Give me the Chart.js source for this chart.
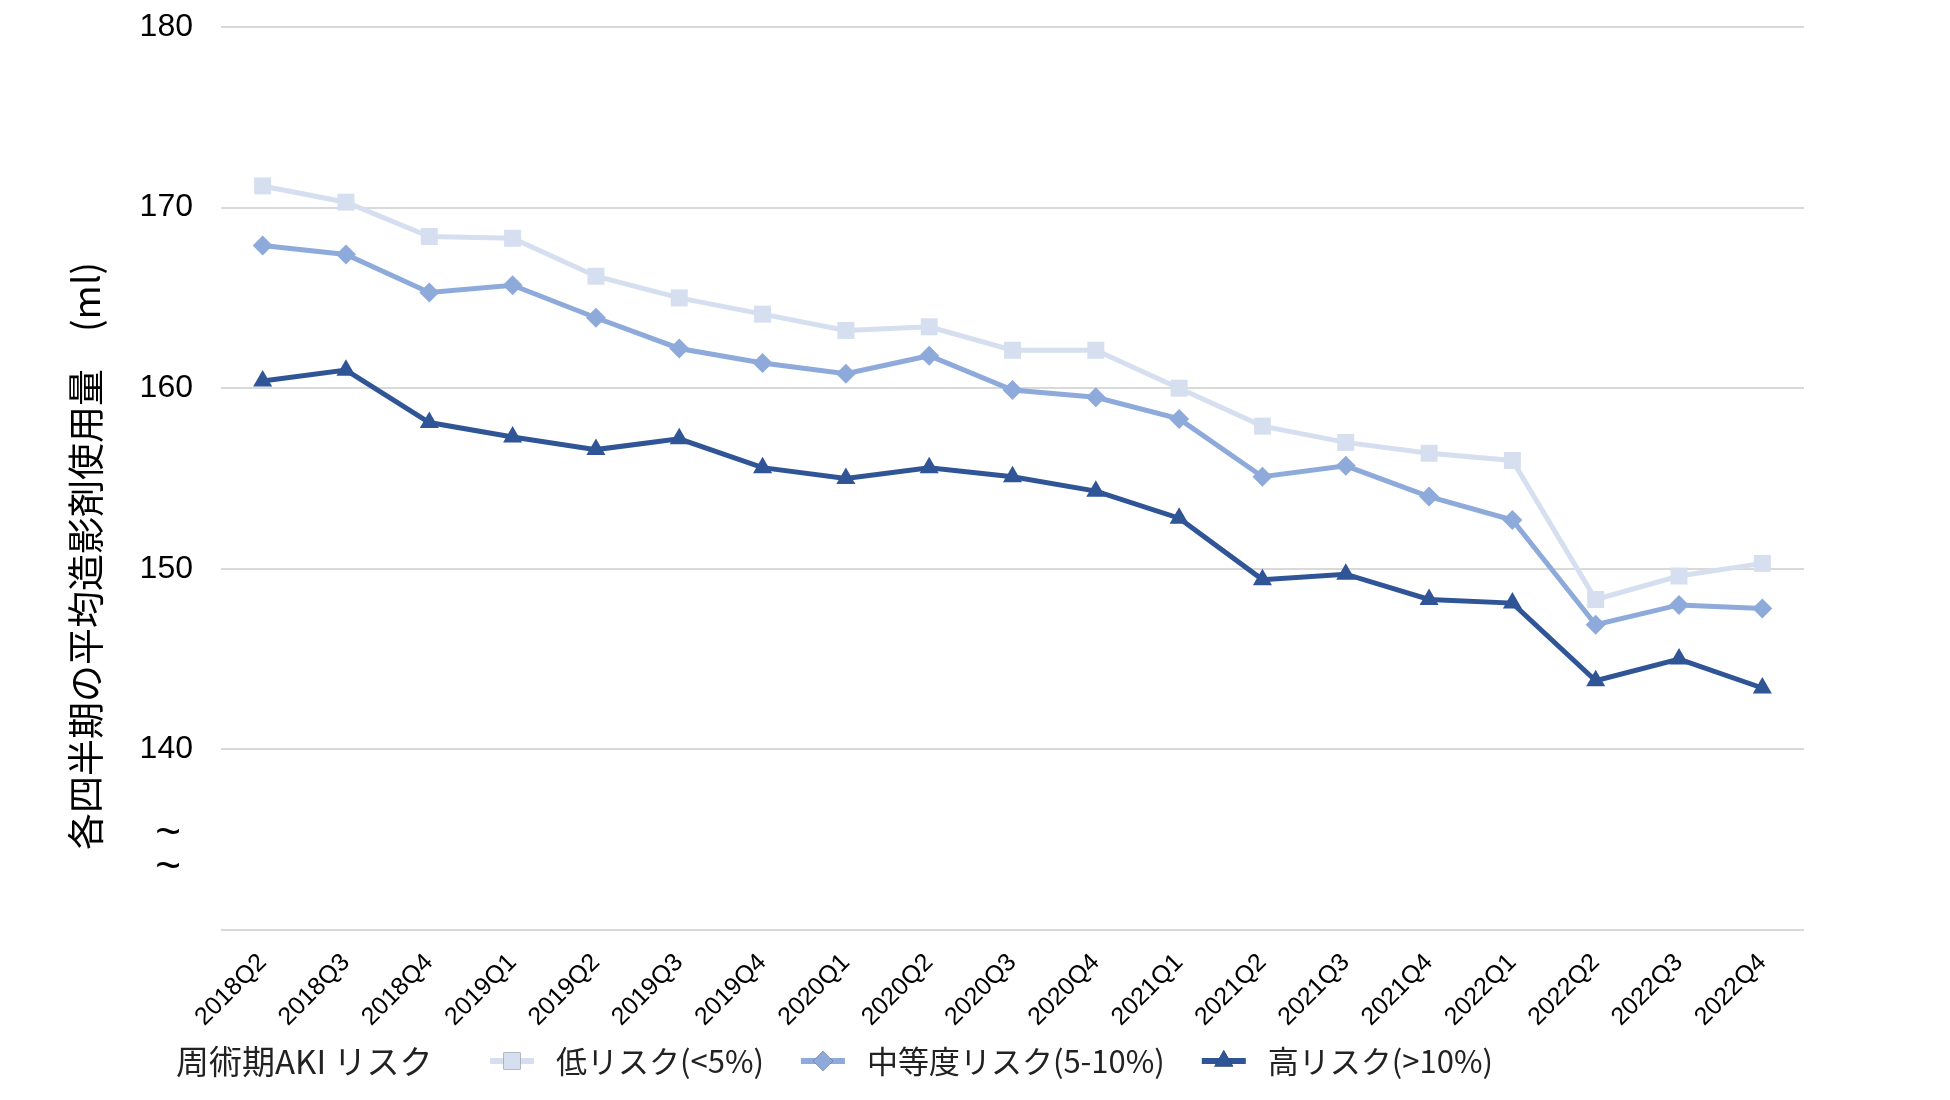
<!DOCTYPE html>
<html>
<head>
<meta charset="utf-8">
<script src="https://cdn.jsdelivr.net/npm/chart.js@4/dist/chart.umd.min.js"></script>
<style>
  html, body { margin: 0; padding: 0; background: #fff; }
  #wrap { width: 1950px; height: 1100px; }
</style>
</head>
<body>
<div id="wrap"><canvas id="riskChart" width="1950" height="1100"></canvas></div>
<script>
const quarters = ['2018Q2', '2018Q3', '2018Q4', '2019Q1', '2019Q2', '2019Q3', '2019Q4',
  '2020Q1', '2020Q2', '2020Q3', '2020Q4', '2021Q1', '2021Q2', '2021Q3', '2021Q4',
  '2022Q1', '2022Q2', '2022Q3', '2022Q4'];

const lowRisk = [171.2, 170.3, 168.4, 168.3, 166.2, 165.0, 164.1, 163.2, 163.4, 162.1,
  162.1, 160.0, 157.9, 157.0, 156.4, 156.0, 148.3, 149.6, 150.3];
const midRisk = [167.9, 167.4, 165.3, 165.7, 163.9, 162.2, 161.4, 160.8, 161.8, 159.9,
  159.5, 158.3, 155.1, 155.7, 154.0, 152.7, 146.9, 148.0, 147.8];
const highRisk = [160.4, 161.0, 158.1, 157.3, 156.6, 157.2, 155.6, 155.0, 155.6, 155.1,
  154.3, 152.8, 149.4, 149.7, 148.3, 148.1, 143.8, 145.0, 143.4];

const seriesNames = ['低リスク(<5%)', '中等度リスク(5-10%)', '高リスク(>10%)'];
const legendTitle = '周術期AKI リスク';
const yTitle = '各四半期の平均造影剤使用量　(ml)';

const LATIN = '"Liberation Sans", Arial, sans-serif';
const CJK = '"Noto Sans CJK JP", "Noto Sans", sans-serif';

// draws y title, axis break marks and the inline legend
const extras = {
  id: 'extras',
  afterDraw(chart) {
    const ctx = chart.ctx;
    ctx.save();

    // y axis title
    ctx.translate(86, 556);
    ctx.rotate(-Math.PI / 2);
    ctx.fillStyle = '#000';
    ctx.font = '37px ' + CJK;
    ctx.textAlign = 'center';
    ctx.textBaseline = 'middle';
    ctx.fillText(yTitle, 0, 0);
    ctx.restore();

    // break marks under 140
    ctx.save();
    ctx.fillStyle = '#000';
    ctx.font = '44px ' + LATIN;
    ctx.textAlign = 'center';
    ctx.textBaseline = 'middle';
    ctx.fillText('~', 168, 834);
    ctx.fillText('~', 168, 868);

    // legend
    const ly = 1061;
    ctx.font = '33px ' + CJK;
    ctx.textAlign = 'left';
    ctx.fillStyle = '#222';
    ctx.fillText(legendTitle, 176, ly);
    ctx.font = '31px ' + CJK;
    let x = 490;
    chart.data.datasets.forEach((ds) => {
      ctx.strokeStyle = ds.borderColor;
      ctx.lineWidth = 6;
      ctx.beginPath();
      ctx.moveTo(x, ly);
      ctx.lineTo(x + 44, ly);
      ctx.stroke();
      Chart.helpers.drawPoint(ctx, {
        pointStyle: ds.pointStyle,
        radius: ds.pointRadius,
        rotation: 0,
        borderWidth: 0
      }, x + 22, ly);
      ctx.fillStyle = ds.pointBackgroundColor;
      ctx.fill();
      ctx.fillStyle = '#222';
      ctx.fillText(ds.label, x + 66, ly);
      x += 66 + ctx.measureText(ds.label).width + 37;
    });
    ctx.restore();
  }
};

const mk = (label, data, color, style, r) => ({
  label: label,
  data: data,
  borderColor: color,
  backgroundColor: color,
  pointBackgroundColor: color,
  pointBorderColor: color,
  pointBorderWidth: 0,
  pointStyle: style,
  pointRadius: r,
  pointHoverRadius: r,
  borderWidth: 5,
  tension: 0
});

new Chart(document.getElementById('riskChart'), {
  type: 'line',
  data: {
    labels: quarters,
    datasets: [
      mk(seriesNames[0], lowRisk, '#d5dff0', 'rect', 12),
      mk(seriesNames[1], midRisk, '#8eaadb', 'rectRot', 10),
      mk(seriesNames[2], highRisk, '#2f5597', 'triangle', 11)
    ]
  },
  options: {
    responsive: false,
    devicePixelRatio: 1,
    animation: false,
    layout: { padding: { top: 27, right: 146, left: 0, bottom: 0 } },
    plugins: {
      legend: { display: false },
      tooltip: { enabled: false }
    },
    scales: {
      x: {
        offset: true,
        grid: { display: false, drawTicks: false },
        border: { display: false },
        ticks: {
          minRotation: 45,
          maxRotation: 45,
          padding: 18,
          color: '#000',
          font: { family: LATIN, size: 25 }
        },
        afterFit(scale) {
          scale.height = 170;
          scale.paddingLeft = 0;
          scale.paddingRight = 0;
        }
      },
      y: {
        min: 130,
        max: 180,
        grid: { color: '#d9d9d9', lineWidth: 2, drawTicks: false },
        border: { display: false },
        ticks: {
          stepSize: 10,
          padding: 28,
          color: '#000',
          font: { family: LATIN, size: 32 },
          callback: (v) => (v === 130 ? '' : v)
        },
        afterFit(scale) {
          scale.width = 221;
          scale.paddingTop = 0;
          scale.paddingBottom = 0;
        }
      }
    }
  },
  plugins: [extras]
});
</script>
</body>
</html>
